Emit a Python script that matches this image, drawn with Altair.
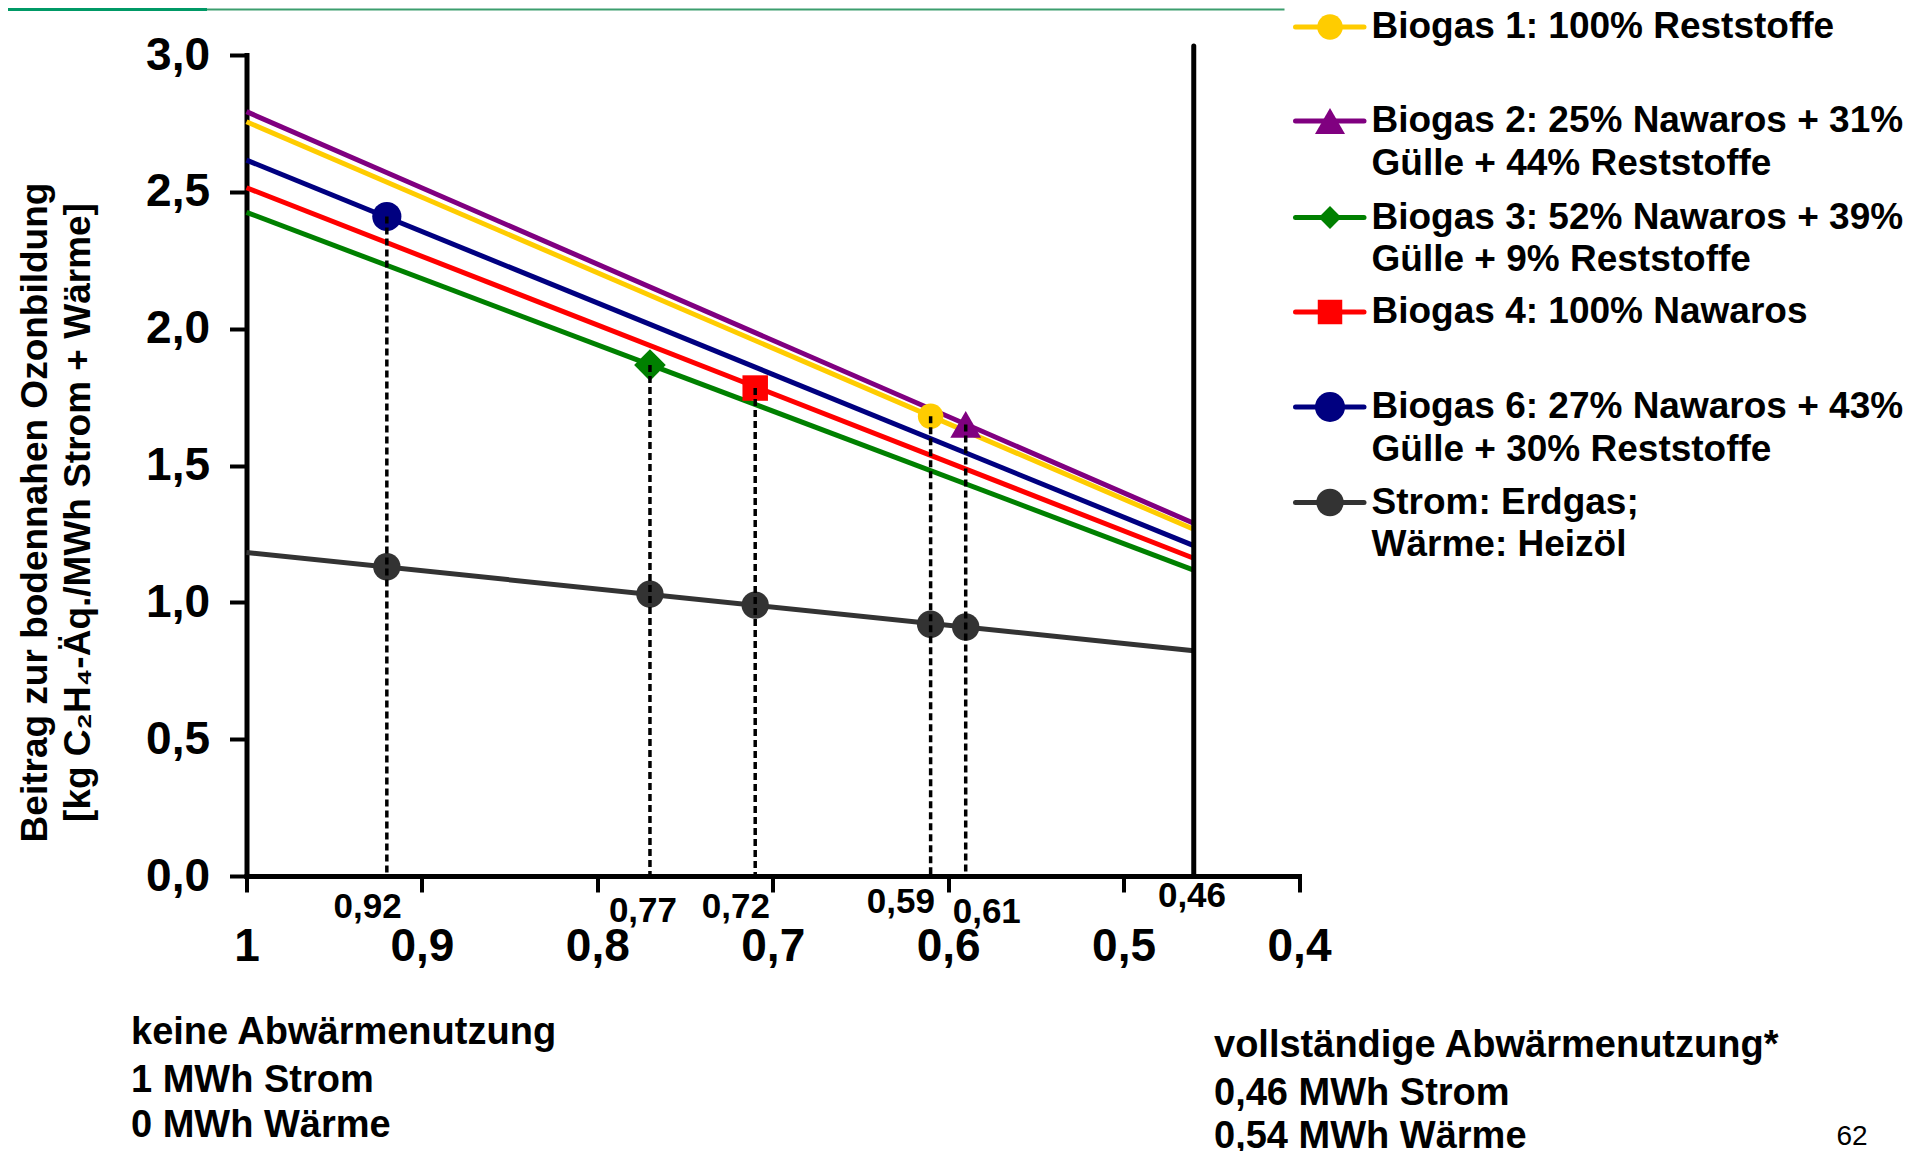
import altair as alt
import pandas as pd

# ---------------- data ----------------
series = ["Biogas 1", "Biogas 2", "Biogas 3", "Biogas 4", "Biogas 6", "Strom"]
y_no_heat = [2.756, 2.793, 2.425, 2.515, 2.616, 1.182]     # value at x = 1 (no heat use)
y_full_heat = [1.267, 1.289, 1.118, 1.161, 1.207, 0.823]   # value at x = 0.46 (full heat use)
x_start = 1.0
x_end = 0.46

marker_series = ["Biogas 1", "Biogas 2", "Biogas 3", "Biogas 4", "Biogas 6"]
marker_x = [0.61, 0.59, 0.77, 0.71, 0.92]
marker_y = [1.68, 1.65, 1.867, 1.783, 2.41]
ref_y = [0.92, 0.91, 1.03, 0.99, 1.13]   # Strom/Erdgas reference at the same x

x_ticks = [1.0, 0.9, 0.8, 0.7, 0.6, 0.5, 0.4]
y_ticks = [0.0, 0.5, 1.0, 1.5, 2.0, 2.5, 3.0]

point_labels = ["0,92", "0,77", "0,72", "0,59", "0,61", "0,46"]
point_label_x = [0.931, 0.774, 0.721, 0.627, 0.578, 0.461]

legend_lines = [
    ["Biogas 1: 100% Reststoffe"],
    ["Biogas 2: 25% Nawaros + 31%", "Gülle + 44% Reststoffe"],
    ["Biogas 3: 52% Nawaros + 39%", "Gülle + 9% Reststoffe"],
    ["Biogas 4: 100% Nawaros"],
    ["Biogas 6: 27% Nawaros + 43%", "Gülle + 30% Reststoffe"],
    ["Strom: Erdgas;", "Wärme: Heizöl"],
]
legend_series = ["Biogas 1", "Biogas 2", "Biogas 3", "Biogas 4", "Biogas 6", "Strom"]

left_note = ["keine Abwärmenutzung", "1 MWh Strom", "0 MWh Wärme"]
right_note = ["vollständige Abwärmenutzung*", "0,46 MWh Strom", "0,54 MWh Wärme"]
page_number = "62"
y_title = ["Beitrag zur bodennahen Ozonbildung", "[kg C₂H₄-Äq./MWh Strom + Wärme]"]

# ---------------- styles / layout ----------------
FONT = "Liberation Sans"
colors = {"Biogas 1": "#FFCC00", "Biogas 2": "#800080", "Biogas 3": "#008000",
          "Biogas 4": "#FF0000", "Biogas 6": "#000080", "Strom": "#333333"}
shapes = {"Biogas 1": "circle", "Biogas 2": "triangle-up", "Biogas 3": "diamond",
          "Biogas 4": "square", "Biogas 6": "circle", "Strom": "circle"}
plot_sizes = {"Biogas 1": 650, "Biogas 2": 950, "Biogas 3": 1000,
              "Biogas 4": 650, "Biogas 6": 850, "Strom": 750}
legend_sizes = {"Biogas 1": 650, "Biogas 2": 900, "Biogas 3": 520,
                "Biogas 4": 600, "Biogas 6": 900, "Strom": 750}
W, H = 1052.5, 821
label_dy = [31, 35, 31, 26, 36, 20]
legend_y = [-28, 66, 162.5, 257, 352, 447.5]
legend_line_gap = 42.5
LEG_X1, LEG_X2, LEG_MX, LEG_TX = 1049, 1117.5, 1083.5, 1125
note_left_x, note_left_y = -115.5, [978, 1026, 1071]
note_right_x, note_right_y = 967.5, [991, 1039, 1082]

# ---------------- encodings ----------------
x_axis = alt.Axis(values=x_ticks, labelExpr="replace(format(datum.value, '.1~f'), '.', ',')",
                  title=None, grid=False, domainColor="black", domainWidth=5, domainCap="square",
                  tickColor="black", tickWidth=4, tickSize=16, labelFont=FONT, labelFontSize=46,
                  labelFontWeight="bold", labelColor="black", labelPadding=54,
                  labelBaseline="middle", labelFlush=False, labelOverlap=False)
y_axis = alt.Axis(values=y_ticks, labelExpr="replace(format(datum.value, '.1f'), '.', ',')",
                  title=None, grid=False, domainColor="black", domainWidth=5, domainCap="square",
                  tickColor="black", tickWidth=4, tickSize=17, labelFont=FONT, labelFontSize=46,
                  labelFontWeight="bold", labelColor="black", labelPadding=20,
                  labelFlush=False, labelOverlap=False)
xs = alt.Scale(domain=[0.4, 1.0], reverse=True, nice=False, zero=False)
ys = alt.Scale(domain=[0.0, 3.0], nice=False)


def X(f="x"):
    return alt.X(f"{f}:Q", scale=xs, axis=x_axis)


def Y(f="y"):
    return alt.Y(f"{f}:Q", scale=ys, axis=y_axis)


layers = []
dummy = pd.DataFrame({"d": [0]})

# decorative green rule at the top of the slide
layers.append(alt.Chart(dummy).mark_rule(color="#009966", strokeWidth=3)
              .encode(x=alt.value(-238.5), x2=alt.value(-39.5), y=alt.value(-45.5)))
layers.append(alt.Chart(dummy).mark_rule(color="#3C9E6E", strokeWidth=2)
              .encode(x=alt.value(-39.5), x2=alt.value(1038), y=alt.value(-45.5)))

# series lines (draw order chosen so that upper lines overlap like the original)
for s in ["Strom", "Biogas 3", "Biogas 4", "Biogas 6", "Biogas 2", "Biogas 1"]:
    i = series.index(s)
    df = pd.DataFrame({"x": [x_start, x_end], "y": [y_no_heat[i], y_full_heat[i]]})
    layers.append(alt.Chart(df).mark_line(color=colors[s], strokeWidth=5).encode(x=X(), y=Y()))

# reference points on Strom line
ref_df = pd.DataFrame({"x": marker_x, "y": ref_y})
layers.append(alt.Chart(ref_df).mark_point(shape="circle", filled=True, opacity=1,
                                           size=plot_sizes["Strom"], color=colors["Strom"])
              .encode(x=X(), y=Y()))

# biogas markers
for s, mx, my in zip(marker_series, marker_x, marker_y):
    df = pd.DataFrame({"x": [mx], "y": [my]})
    layers.append(alt.Chart(df).mark_point(shape=shapes[s], filled=True, opacity=1,
                                           size=plot_sizes[s], color=colors[s])
                  .encode(x=X(), y=Y()))

# dashed drop lines
drop_df = pd.DataFrame({"x": marker_x, "y": marker_y, "y0": [0.0] * len(marker_x)})
layers.append(alt.Chart(drop_df).mark_rule(color="black", strokeWidth=3.5, strokeDash=[7, 4])
              .encode(x=X(), y=Y(), y2="y0:Q"))

# solid vertical line at 0.46
v_df = pd.DataFrame({"x": [x_end], "y": [0.0], "y2": [3.033]})
layers.append(alt.Chart(v_df).mark_rule(color="black", strokeWidth=5, strokeCap="round")
              .encode(x=X(), y=Y(), y2="y2:Q"))

# small value labels under the axis
for t, lx, dy in zip(point_labels, point_label_x, label_dy):
    layers.append(alt.Chart(dummy).mark_text(text=t, font=FONT, fontSize=35, fontWeight="bold",
                                             color="black", align="center", baseline="middle", dy=dy)
                  .encode(x=alt.datum(lx, scale=xs), y=alt.datum(0.0, scale=ys)))

# y title (two rotated lines)
for t, tx in zip(y_title, [-210.5, -167.5]):
    layers.append(alt.Chart(dummy).mark_text(text=t, font=FONT, fontSize=37, fontWeight="bold",
                                             color="black", align="center", baseline="middle", angle=270)
                  .encode(x=alt.value(tx), y=alt.value(457.5)))

# legend
for s, lines, ly in zip(legend_series, legend_lines, legend_y):
    layers.append(alt.Chart(dummy).mark_rule(color=colors[s], strokeWidth=5, strokeCap="round")
                  .encode(x=alt.value(LEG_X1), x2=alt.value(LEG_X2), y=alt.value(ly)))
    layers.append(alt.Chart(dummy).mark_point(shape=shapes[s], filled=True, opacity=1,
                                              size=legend_sizes[s], color=colors[s])
                  .encode(x=alt.value(LEG_MX), y=alt.value(ly)))
    for j, t in enumerate(lines):
        layers.append(alt.Chart(dummy).mark_text(text=t, font=FONT, fontSize=37, fontWeight="bold",
                                                 color="black", align="left", baseline="middle")
                      .encode(x=alt.value(LEG_TX), y=alt.value(ly + j * legend_line_gap)))

# notes under the chart
for t, ny in zip(left_note, note_left_y):
    layers.append(alt.Chart(dummy).mark_text(text=t, font=FONT, fontSize=38, fontWeight="bold",
                                             color="black", align="left", baseline="middle")
                  .encode(x=alt.value(note_left_x), y=alt.value(ny)))
for t, ny in zip(right_note, note_right_y):
    layers.append(alt.Chart(dummy).mark_text(text=t, font=FONT, fontSize=38, fontWeight="bold",
                                             color="black", align="left", baseline="middle")
                  .encode(x=alt.value(note_right_x), y=alt.value(ny)))
layers.append(alt.Chart(dummy).mark_text(text=page_number, font=FONT, fontSize=28,
                                         color="black", align="center", baseline="middle")
              .encode(x=alt.value(1605.5), y=alt.value(1082)))

chart = alt.layer(*layers).properties(
    width=W, height=H,
    padding={"left": 238.5, "top": 47, "right": 610, "bottom": 275},
    autosize=alt.AutoSizeParams(type="none"),
    background="white",
).configure_view(stroke=None)

chart.save("out.html", embed_options={"renderer": "svg", "actions": False})
